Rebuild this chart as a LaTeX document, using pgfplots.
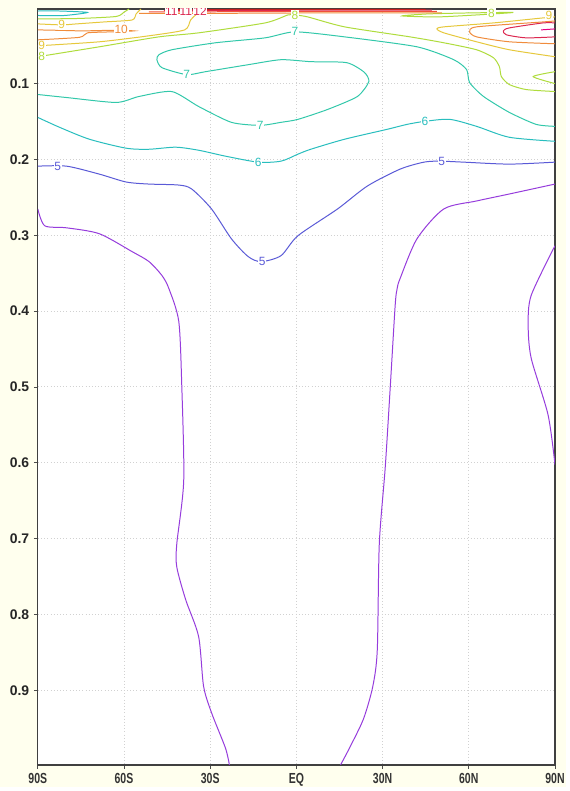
\documentclass[border=0pt]{standalone}
\usepackage{fontspec}
\setmainfont{Liberation Sans}
\usepackage{graphicx}
\usepackage{pgfplots}
\pgfplotsset{compat=1.18}
\usetikzlibrary{backgrounds,calc}
\definecolor{bgy}{RGB}{255,255,238}
\definecolor{c4}{RGB}{150,60,220}
\definecolor{c5}{RGB}{90,90,215}
\definecolor{c6}{RGB}{40,190,190}
\definecolor{c7}{RGB}{50,200,170}
\definecolor{c8}{RGB}{175,220,60}
\definecolor{c9}{RGB}{230,200,60}
\definecolor{c10}{RGB}{240,140,60}
\definecolor{c11}{RGB}{240,80,60}
\definecolor{c12}{RGB}{220,40,80}
\definecolor{c13}{RGB}{230,0,130}
\definecolor{c14}{RGB}{200,30,30}
\newcommand{\xl}[1]{\scalebox{0.72}[1]{#1}}
\tikzset{lbl/.style={fill=white, inner sep=0.6pt, font=\fontsize{9}{10}\selectfont}}
\begin{document}
\begin{tikzpicture}
\begin{axis}[name=ax,
  scale only axis, width=390pt, height=570pt,
  xmin=-90, xmax=90, ymin=0.0016, ymax=0.9984, y dir=reverse,
  xtick={-90,-60,-30,0,30,60,90},
  xticklabels={\xl{90S},\xl{60S},\xl{30S},\xl{EQ},\xl{30N},\xl{60N},\xl{90N}},
  ytick={0.1,0.2,0.3,0.4,0.5,0.6,0.7,0.8,0.9},
  yticklabels={0.1,0.2,0.3,0.4,0.5,0.6,0.7,0.8,0.9},
  yticklabel style={font=\fontsize{10.5}{12}\selectfont\bfseries, text=black!85},
  xticklabel style={font=\fontsize{11}{12}\selectfont\bfseries, text=black!80},
  tick align=outside, major tick length=3pt, tick style={black!70, line width=0.6pt},
  xtick pos=bottom, ytick pos=left,
  grid=major, grid style={dotted, black!18, line width=0.7pt},
  axis line style={black!75, line width=1pt},
  axis background/.style={fill=white},
  every axis plot/.append style={line width=0.75pt, mark=none},
]
% contour 4
\addplot[c4, smooth, tension=0.45] coordinates {(-90,0.2653)(-87.58,0.2875)(-79.98,0.2902)(-68.58,0.2980)(-57.18,0.3216)(-51.31,0.3347)(-46.81,0.3530)(-44.39,0.3702)(-40.94,0.4134)(-39.90,0.4974)(-39.21,0.6233)(-41.63,0.7072)(-41.63,0.7374)(-38.52,0.7807)(-34.03,0.8292)(-32.30,0.8948)(-29.50,0.9300)(-24.70,0.9761)(-23.32,0.9984)};
\addplot[c4, smooth, tension=0.45] coordinates {(15.38,0.9984)(18.49,0.9761)(23.33,0.9380)(26.60,0.8948)(28.16,0.8462)(28.85,0.7072)(30.92,0.6062)(32.65,0.5013)(34.38,0.3925)(35.07,0.3702)(36.10,0.3570)(41.98,0.3046)(51.31,0.2653)(62.71,0.2548)(74.11,0.2456)(90,0.2325)};
\addplot[c4, smooth, tension=0.45] coordinates {(90,0.3138)(81.71,0.3794)(80.67,0.4187)(81.71,0.4620)(87.58,0.5367)(90,0.6023)};
% contour 5
\addplot[c5, smooth, tension=0.45] coordinates {(-90,0.2089)(-79.98,0.2089)(-68.58,0.2194)(-59.25,0.2298)(-51.31,0.2325)(-40.94,0.2338)(-36.45,0.2390)(-29.54,0.2653)(-22.63,0.3046)(-16.76,0.3282)(-12.26,0.3348)(-5.35,0.3269)(0.52,0.3007)(14.34,0.2653)(24.70,0.2351)(36.10,0.2128)(44.40,0.2036)(49.92,0.2023)(58.22,0.2036)(74.11,0.2062)(90,0.2036)};
% contour 6
\addplot[c6, smooth, tension=0.45] coordinates {(-90,0.1446)(-82.40,0.1577)(-72.03,0.1734)(-59.25,0.1852)(-51.31,0.1866)(-41.98,0.1839)(-34.03,0.1879)(-24.70,0.1957)(-13.30,0.2036)(-5.35,0.2023)(0.52,0.1931)(5.01,0.1866)(16.76,0.1734)(31.61,0.1603)(38.52,0.1538)(44.74,0.1498)(53.38,0.1472)(62.71,0.1564)(74.11,0.1708)(90,0.1761)};
% contour 7
\addplot[c7, smooth, tension=0.4] coordinates {(-90,0.1144)(-79.98,0.1184)(-62.71,0.1249)(-54.76,0.1170)(-43.36,0.1105)(-34.03,0.1302)(-22.63,0.1511)(-12.61,0.1551)(-5.35,0.1511)(0.52,0.1472)(10.88,0.1341)(21.25,0.1170)(25.20,0.0975)(23.60,0.0850)(17.50,0.0724)(5.01,0.0711)(-5.35,0.0685)(-16.76,0.0751)(-31.61,0.0843)(-38.18,0.0882)(-46.81,0.0790)(-48.54,0.0685)(-47.85,0.0620)(-43.36,0.0554)(-28.16,0.0462)(-10.88,0.0397)(-0.52,0.0318)(16.76,0.0384)(41.98,0.0515)(54.76,0.0685)(59.25,0.0816)(60.29,0.0987)(65.13,0.1170)(74.11,0.1380)(83.44,0.1538)(90,0.1564)};
\addplot[c6, smooth, tension=0.4] coordinates {(-90,0.0043)(-82.40,0.0043)(-72.73,0.0062)(-80.67,0.0102)(-90,0.0102)};
% contour 8
\addplot[c8, smooth, tension=0.4] coordinates {(-90,0.0646)(-68.58,0.0515)(-47.85,0.0384)(-34.03,0.0331)(-10.88,0.0200)(-2.94,0.0095)(-0.52,0.0095)(3.97,0.0121)(16.76,0.0252)(39.56,0.0384)(51.31,0.0462)(62.71,0.0554)(68.58,0.0659)(70.65,0.0777)(71.34,0.0908)(74.11,0.1013)(79.98,0.1079)(90,0.1105)};
\addplot[c8, smooth, tension=0.4] coordinates {(-90,0.0148)(-75.49,0.0141)(-62.71,0.0115)(-59.94,0.0056)(-58.21,0.0016)};
\addplot[c8, smooth cycle, tension=0.4] coordinates {(36.79,0.0108)(45.43,0.0082)(59.25,0.0069)(75.49,0.0062)(62.71,0.0095)(48.89,0.0121)};
\addplot[c8, smooth, tension=0.4] coordinates {(90,0.0843)(82.40,0.0908)(90,0.1000)};
% contour 9
\addplot[c9, smooth, tension=0.4] coordinates {(-90,0.0213)(-81.71,0.0226)(-76.53,0.0213)(-66.85,0.0187)(-57.18,0.0161)(-55.80,0.0082)(-54.07,0.0016)};
\addplot[c9, smooth, tension=0.4] coordinates {(-90,0.0502)(-68.58,0.0449)(-51.31,0.0370)(-38.87,0.0292)(-36.80,0.0161)(-34.03,0.0069)(-28.85,0.0030)};
\addplot[c9, smooth, tension=0.4] coordinates {(90,0.0121)(85.85,0.0134)(68.58,0.0200)(51.31,0.0252)(48.89,0.0279)(51.31,0.0331)(62.71,0.0449)(74.11,0.0554)(90,0.0646)};
% contour 10
\addplot[c10, smooth, tension=0.4] coordinates {(-90,0.0292)(-82.40,0.0298)(-74.45,0.0305)(-64.43,0.0298)(-56.49,0.0305)(-64.43,0.0318)(-72.73,0.0331)(-75.49,0.0390)(-90,0.0423)};
\addplot[c10, smooth, tension=0.4] coordinates {(90,0.0174)(85.85,0.0187)(62.71,0.0252)(60.29,0.0318)(62.71,0.0384)(74.11,0.0449)(90,0.0475)};
\addplot[c10] coordinates {(-54.76,0.0075)(-34.03,0.0075)(0.52,0.0069)(50.61,0.0069)};
% contour 11, 12, ...
\addplot[c11] coordinates {(-51.31,0.0056)(0.52,0.0049)(48.89,0.0049)};
\addplot[c12] coordinates {(-46.12,0.0038)(0.52,0.0033)(47.16,0.0033)};
\addplot[c14] coordinates {(-42,0.0024)(0.52,0.0022)(45,0.0022)};
\addplot[c12, smooth, tension=0.4] coordinates {(90,0.0200)(85.85,0.0200)(74.11,0.0266)(72.03,0.0305)(73.07,0.0357)(79.98,0.0397)(90,0.0384)};
\addplot[c13] coordinates {(85.16,0.0292)(90,0.0279)};
% labels
\node[lbl, text=c5] at (axis cs:-83.09,0.2089) {5};
\node[lbl, text=c5] at (axis cs:-11.92,0.3348) {5};
\node[lbl, text=c5] at (axis cs:50.61,0.2023) {5};
\node[lbl, text=c6] at (axis cs:-13.30,0.2036) {6};
\node[lbl, text=c6] at (axis cs:44.74,0.1498) {6};
\node[lbl, text=c7] at (axis cs:-12.61,0.1551) {7};
\node[lbl, text=c7] at (axis cs:-38.18,0.0882) {7};
\node[lbl, text=c7] at (axis cs:-0.52,0.0318) {7};
\node[lbl, text=c8] at (axis cs:-88.62,0.0646) {8};
\node[lbl, text=c9] at (axis cs:-88.62,0.0502) {9};
\node[lbl, text=c9] at (axis cs:-81.71,0.0226) {9};
\node[lbl, text=c10] at (axis cs:-60.98,0.0292) {10};
\node[lbl, text=c8] at (axis cs:-0.52,0.0095) {8};
\node[lbl, text=c8] at (axis cs:67.89,0.0069) {8};
\node[lbl, text=c9] at (axis cs:87.93,0.0095) {9};
\node[lbl, text=c12, inner sep=0pt] at (axis cs:-43.5,0.0045) {11};
\node[lbl, text=c12, inner sep=0pt] at (axis cs:-38.5,0.0045) {11};
\node[lbl, text=c12, inner sep=0pt] at (axis cs:-33.5,0.0045) {12};
\end{axis}
\begin{scope}[on background layer]
\fill[bgy] ($(ax.south west)+(-28.5pt,-16.5pt)$) rectangle ($(ax.north east)+(8pt,6.75pt)$);
\end{scope}
\end{tikzpicture}
\end{document}
